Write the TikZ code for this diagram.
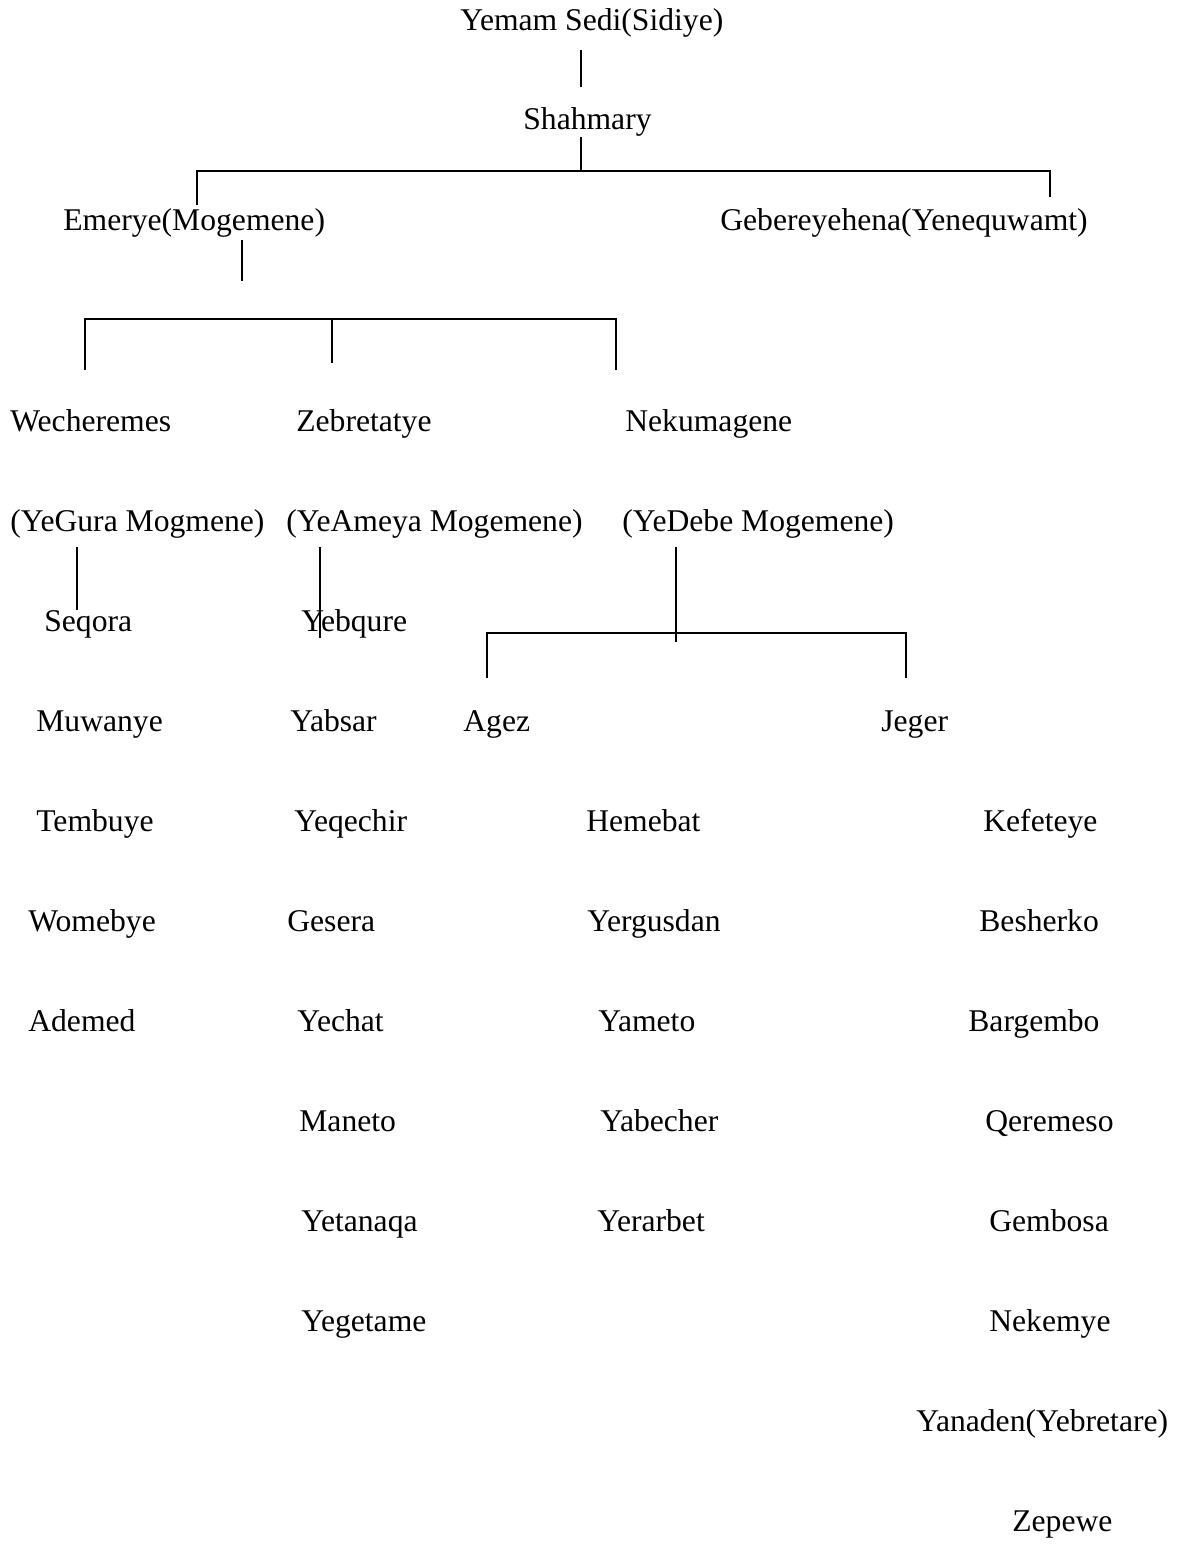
\documentclass[tikz,border=0pt]{standalone}
\usepackage{fontspec}
\setmainfont{Liberation Serif}

\tikzset{
  member/.style={anchor=base west, inner sep=0pt, font=\fontsize{18}{22}\selectfont},
  link/.style={line width=1.1pt}
}

\begin{document}
\begin{tikzpicture}[x=0.02cm, y=-0.02cm]
  \useasboundingbox (0,0) rectangle (1182,1544);

  % head of the line
  \node[member] (yemam) at (460,31) {Yemam Sedi(Sidiye)};
  \node[member] (shahmary) at (523,130) {Shahmary};
  \node[member] (emerye) at (63,231) {Emerye(Mogemene)};
  \node[member] (gebere) at (720,231) {Gebereyehena(Yenequwamt)};

  % the three Mogemene houses
  \node[member] (wecheremes) at (10,431) {Wecheremes};
  \node[member] (zebretatye) at (296,431) {Zebretatye};
  \node[member] (nekumagene) at (625,431) {Nekumagene};
  \node[member] (yegura) at (10,531) {(YeGura Mogmene)};
  \node[member] (yeameya) at (286,531) {(YeAmeya Mogemene)};
  \node[member] (yedebe) at (622,531) {(YeDebe Mogemene)};

  % name lists, one row every 100
  \foreach \nm/\xx/\rr/\who in {seqora/44/0/Seqora, muwanye/36/1/Muwanye,
      tembuye/36/2/Tembuye, womebye/28/3/Womebye, ademed/28/4/Ademed,
      yebqure/301/0/Yebqure, yabsar/290/1/Yabsar, yeqechir/294/2/Yeqechir,
      gesera/287/3/Gesera, yechat/297/4/Yechat, maneto/299/5/Maneto,
      yetanaqa/301/6/Yetanaqa, yegetame/301/7/Yegetame,
      agez/463/1/Agez, jeger/881/1/Jeger,
      hemebat/586/2/Hemebat, yergusdan/587/3/Yergusdan, yameto/598/4/Yameto,
      yabecher/600/5/Yabecher, yerarbet/597/6/Yerarbet,
      kefeteye/983/2/Kefeteye, besherko/979/3/Besherko, bargembo/968/4/Bargembo,
      qeremeso/985/5/Qeremeso, gembosa/989/6/Gembosa, nekemye/989/7/Nekemye,
      yanaden/916/8/Yanaden(Yebretare), zepewe/1012/9/Zepewe} {
    \node[member] (\nm) at (\xx,631+100*\rr) {\who};
  }

  % connectors
  \coordinate (fork0) at (581,171);
  \draw[link] (yemam.south -| fork0) ++(0,12) -- ++(0,37);
  \draw[link] (shahmary.south -| fork0) -- (fork0);
  \coordinate (bar0l) at (197,171);
  \coordinate (bar0r) at (1050,171);
  \draw[link] (bar0l) ++(0,34) -- (bar0l) -- (bar0r) -- ++(0,26);

  \coordinate (fork1) at (242,281);
  \draw[link] (emerye.south -| fork1) ++(0,2) -- (fork1);
  \coordinate (bar1l) at (85,319);
  \coordinate (bar1m) at (332,319);
  \coordinate (bar1r) at (616,319);
  \draw[link] (bar1l) ++(0,51) -- (bar1l) -- (bar1r) -- ++(0,51);
  \draw[link] (bar1m) -- ++(0,44);

  \draw[link] (yegura.south -| 77,0) ++(0,9) -- (seqora.north -| 77,0);
  \draw[link] (yeameya.south -| 320,0) ++(0,9) -- (yebqure.south -| 320,0);
  \draw[link] (yedebe.south -| 676,0) ++(0,9) -- ++(0,95);
  \coordinate (bar2l) at (487,633);
  \coordinate (bar2r) at (906,633);
  \draw[link] (bar2l) ++(0,45) -- (bar2l) -- (bar2r) -- ++(0,45);
\end{tikzpicture}
\end{document}
